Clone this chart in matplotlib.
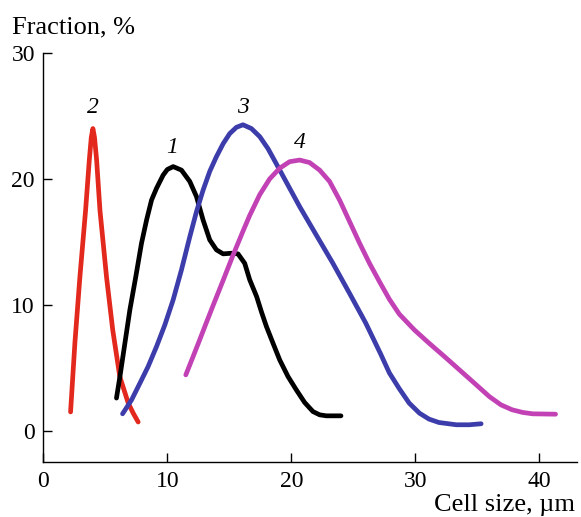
import matplotlib
matplotlib.use("Agg")
import matplotlib.pyplot as plt

# Curve 1 (black)
x1 = [5.9, 6.18, 6.58, 6.98, 7.46, 7.92, 8.33, 8.73, 9.13, 9.66, 10.0, 10.47, 11.14, 11.81, 12.35, 12.88,
      13.42, 13.96, 14.5, 15.17, 15.7, 16.24, 16.64, 17.2, 17.58, 17.99, 18.52, 19.06, 19.73, 20.4,
      21.07, 21.74, 22.28, 22.82, 24.0]
y1 = [2.6, 4.31, 6.96, 9.6, 12.25, 14.9, 16.75, 18.33, 19.26, 20.3, 20.75, 20.98, 20.7, 19.8, 18.6, 16.75,
      15.16, 14.37, 14.05, 14.1, 14.05, 13.3, 12.0, 10.66, 9.47, 8.28, 6.96, 5.63, 4.31, 3.25,
      2.25, 1.53, 1.27, 1.19, 1.19]
# Curve 2 (red)
x2 = [2.2, 2.55, 2.95, 3.41, 3.71, 3.87, 4.0, 4.13, 4.3, 4.57, 5.1, 5.6, 6.17, 6.85, 7.25, 7.65]
y2 = [1.5, 7.0, 12.2, 17.5, 21.5, 23.3, 24.0, 23.3, 21.5, 17.5, 12.2, 8.0, 4.3, 2.2, 1.4, 0.7]
# Curve 3 (blue)
x3 = [6.39, 7.12, 7.79, 8.45, 9.13, 9.8, 10.47, 11.14, 11.81, 12.35, 12.88, 13.42, 13.96, 14.5, 15.03,
      15.57, 16.1, 16.78, 17.45, 18.12, 18.79, 19.73, 20.67, 22.0, 23.35, 24.7, 26.0, 27.2, 27.9,
      28.7, 29.5, 30.33, 31.1, 31.9, 33.3, 34.35, 35.3]
y3 = [1.35, 2.46, 3.78, 5.1, 6.69, 8.41, 10.4, 12.78, 15.4, 17.4, 19.1, 20.6, 21.77, 22.8, 23.6,
      24.1, 24.3, 24.0, 23.36, 22.4, 21.2, 19.5, 17.8, 15.56, 13.3, 10.9, 8.55, 6.1, 4.6,
      3.35, 2.2, 1.4, 0.93, 0.66, 0.48, 0.48, 0.56]
# Curve 4 (magenta)
x4 = [11.49, 12.08, 12.6, 13.15, 13.69, 14.5, 15.3, 16.1, 16.64, 17.45, 18.25,
      19.06, 19.86, 20.67, 21.47, 22.28, 23.08, 23.9, 24.7, 25.5, 26.3, 27.1, 27.9, 28.7, 29.93,
      31.1, 32.34, 33.55, 34.76, 35.96, 36.9, 37.8, 38.65, 39.45, 41.3]
y4 = [4.44, 5.9, 7.2, 8.6, 9.95, 11.95, 13.95, 15.85, 17.1, 18.75, 20.0,
      20.85, 21.37, 21.5, 21.3, 20.7, 19.8, 18.3, 16.6, 14.9, 13.3, 11.85, 10.45, 9.27, 8.0,
      6.96, 5.9, 4.84, 3.78, 2.72, 2.06, 1.67, 1.46, 1.35, 1.32]

curve_labels = ["1", "2", "3", "4"]
label_x = [10.4, 4.0, 16.1, 20.7]
label_y = [22.5, 25.7, 25.7, 22.9]

x_ticks = [0, 10, 20, 30, 40]
y_ticks = [0, 10, 20, 30]

plt.rcParams['font.family'] = ['Liberation Serif', 'DejaVu Serif']

fig = plt.figure(figsize=(5.81, 5.17), dpi=100)
ax = fig.add_axes([0.0745, 0.1058, 0.918, 0.7917])

lw = 3.4
style = dict(lw=lw, solid_joinstyle='round', solid_capstyle='round')
ax.plot(x2, y2, color='#e3281d', **style)
ax.plot(x1, y1, color='#000000', **style)
ax.plot(x3, y3, color='#3c3daa', **style)
ax.plot(x4, y4, color='#c242b5', **style)

for t, lx, ly in zip(curve_labels, label_x, label_y):
    ax.text(lx, ly, t, fontsize=17, style='italic', ha='center', va='center')

ax.set_xlim(0, 43)
ax.set_ylim(-2.5, 30)
ax.set_xticks(x_ticks)
ax.set_yticks(y_ticks)
ax.spines['top'].set_visible(False)
ax.spines['right'].set_visible(False)
ax.spines['left'].set_bounds(-2.5, 30)
for s in ['left', 'bottom']:
    ax.spines[s].set_linewidth(1.0)
ax.tick_params(direction='in', length=6.5, width=1.0, labelsize=17, pad=6)

fig.text(12 / 581, 1 - 27 / 517, "Fraction, %", fontsize=19, ha='left', va='center')
fig.text(575 / 581, 1 - 505 / 517, "Cell size, µm", fontsize=19, ha='right', va='center')

fig.savefig("out.png", dpi=100)
